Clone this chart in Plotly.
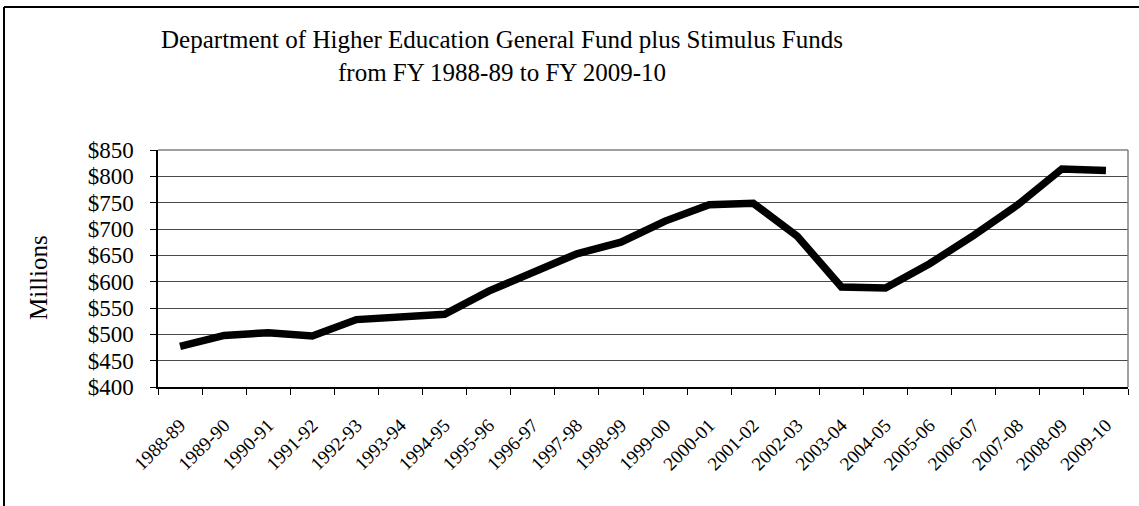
import plotly.graph_objects as go

years = ["1988-89", "1989-90", "1990-91", "1991-92", "1992-93", "1993-94", "1994-95",
         "1995-96", "1996-97", "1997-98", "1998-99", "1999-00", "2000-01", "2001-02",
         "2002-03", "2003-04", "2004-05", "2005-06", "2006-07", "2007-08", "2008-09", "2009-10"]
funds = [477, 498, 503, 497, 528, 533, 538, 582, 619, 653, 675, 715, 746, 749,
         686, 590, 588, 634, 688, 746, 814, 811]
ytick_vals = [400, 450, 500, 550, 600, 650, 700, 750, 800, 850]
ytick_text = ["$" + str(v) for v in ytick_vals]

font_family = "Liberation Serif, Times New Roman, serif"

fig = go.Figure()
fig.add_trace(go.Scatter(x=years, y=funds, mode="lines",
                         line=dict(color="black", width=7.5),
                         hoverinfo="x+y", showlegend=False))

fig.update_layout(
    width=1139, height=506,
    margin=dict(l=158, r=11, t=150, b=119),
    paper_bgcolor="white", plot_bgcolor="white",
    font=dict(family=font_family, color="black"),
    title=dict(text="Department of Higher Education General Fund plus Stimulus Funds<br>from FY 1988-89 to FY 2009-10",
               x=502 / 1139, xanchor="center", y=1 - 48 / 506, yanchor="middle",
               font=dict(size=25, family=font_family, color="black")),
    xaxis=dict(type="category", range=[-0.5, 21.5], tickangle=-45,
               ticks="outside", tickson="boundaries", ticklen=6, tickcolor="black",
               showline=True, linecolor="black", linewidth=1.5, mirror=False,
               showgrid=False, ticklabelstandoff=18,
               tickfont=dict(size=19, family=font_family)),
    yaxis=dict(range=[400, 850], tickvals=ytick_vals, ticktext=ytick_text,
               ticks="outside", ticklen=6, tickcolor="black",
               showline=True, linecolor="black", linewidth=1.5,
               showgrid=True, gridcolor="#4a4a4a", gridwidth=1.2,
               zeroline=False, ticklabelstandoff=12,
               tickfont=dict(size=23, family=font_family)),
    annotations=[
        dict(text="Millions", textangle=-90, showarrow=False,
             xref="paper", yref="paper", x=(38 - 158) / 970, y=(387 - 278) / 237,
             xanchor="center", yanchor="middle",
             font=dict(size=25, family=font_family, color="black")),
    ],
    shapes=[
        # plot area right and top borders
        dict(type="line", xref="paper", yref="paper", x0=1, x1=1, y0=0, y1=1,
             line=dict(color="#808080", width=1.5)),
        dict(type="line", xref="paper", yref="paper", x0=0, x1=1, y0=1, y1=1,
             line=dict(color="#808080", width=1.5)),
        # outer chart frame (top and left)
        dict(type="line", xref="paper", yref="paper", x0=-154 / 970, x1=(1139 - 158) / 970,
             y0=(387 - 7) / 237, y1=(387 - 7) / 237, line=dict(color="black", width=2)),
        dict(type="line", xref="paper", yref="paper", x0=-154 / 970, x1=-154 / 970,
             y0=(387 - 7) / 237, y1=(387 - 506) / 237, line=dict(color="black", width=2)),
    ],
)

fig.write_html("out.html", config={"displayModeBar": False},
               post_script="document.body.style.margin='0px';")
